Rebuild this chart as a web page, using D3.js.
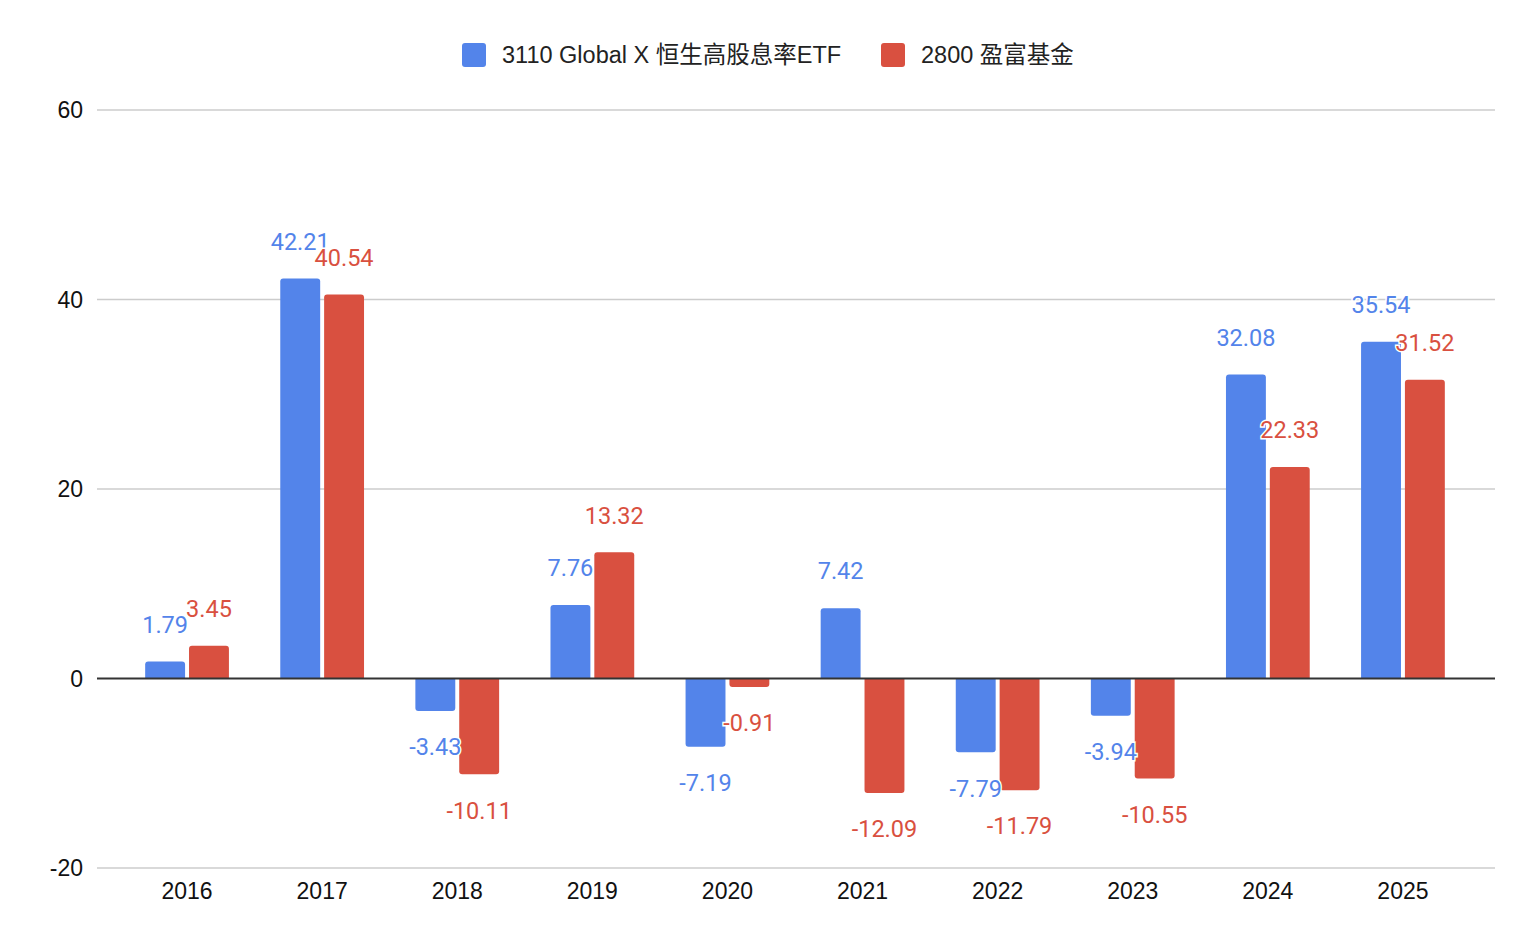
<!DOCTYPE html>
<html>
<head>
<meta charset="utf-8">
<script src="https://cdn.jsdelivr.net/npm/d3@7"></script>
<style>
  body { margin: 0; background: #fff; }
  text { font-family: "Liberation Sans", Arial, "Noto Sans CJK TC", sans-serif; }
  .lbl { font-family: Roboto, "Liberation Sans", sans-serif; }
</style>
</head>
<body>
<div id="chart"></div>
<script>
// data
var years = ["2016", "2017", "2018", "2019", "2020", "2021", "2022", "2023", "2024", "2025"];
var seriesNames = ["3110 Global X 恒生高股息率ETF", "2800 盈富基金"];
var etf3110 = [1.79, 42.21, -3.43, 7.76, -7.19, 7.42, -7.79, -3.94, 32.08, 35.54];
var fund2800 = [3.45, 40.54, -10.11, 13.32, -0.91, -12.09, -11.79, -10.55, 22.33, 31.52];
var yTicks = [-20, 0, 20, 40, 60];
var colors = ["#5384ea", "#d95040"];

var svgWidth = 1540;
var svgHeight = 950;

var svg = d3.select("#chart")
    .append("svg")
    .attr("width", svgWidth)
    .attr("height", svgHeight);

var x = d3.scaleBand()
    .domain(years)
    .range([119.5, 1470.5])
    .paddingInner(0.38)
    .paddingOuter(0.19);

var xInner = d3.scaleBand()
    .domain([0, 1])
    .range([0, x.bandwidth()])
    .paddingInner(0.09);

var y = d3.scaleLinear()
    .domain([-20, 60])
    .range([868, 110]);

// gridlines
svg.append("g").selectAll("line")
    .data(yTicks.filter(d => d !== 0))
    .enter()
    .append("line")
    .attr("x1", 97)
    .attr("x2", 1495)
    .attr("y1", d => y(d))
    .attr("y2", d => y(d))
    .attr("stroke", "#cccccc")
    .attr("stroke-width", 1.5);

// y labels
svg.append("g").selectAll("text")
    .data(yTicks)
    .enter()
    .append("text")
    .attr("x", 83)
    .attr("y", d => y(d))
    .attr("dy", "0.35em")
    .attr("text-anchor", "end")
    .attr("font-size", 23)
    .attr("fill", "#111")
    .text(d => d);

// x labels
svg.append("g").selectAll("text")
    .data(years)
    .enter()
    .append("text")
    .attr("x", d => x(d) + x.bandwidth() / 2)
    .attr("y", 891)
    .attr("dy", "0.35em")
    .attr("text-anchor", "middle")
    .attr("font-size", 23)
    .attr("fill", "#111")
    .text(d => d);

// flat table of bars
var rows = [];
years.forEach(function (yr, i) {
    rows.push({ year: yr, s: 0, v: etf3110[i] });
    rows.push({ year: yr, s: 1, v: fund2800[i] });
});

// bar with rounded far end
function barPath(d) {
    var x0 = x(d.year) + xInner(d.s);
    var w = xInner.bandwidth();
    var y0 = y(0);
    var y1 = y(d.v);
    var r = Math.min(3, Math.abs(y1 - y0));
    var sgn = d.v >= 0 ? 1 : -1;
    return "M" + x0 + "," + y0 +
        "L" + x0 + "," + (y1 + sgn * r) +
        "Q" + x0 + "," + y1 + " " + (x0 + r) + "," + y1 +
        "L" + (x0 + w - r) + "," + y1 +
        "Q" + (x0 + w) + "," + y1 + " " + (x0 + w) + "," + (y1 + sgn * r) +
        "L" + (x0 + w) + "," + y0 + "Z";
}

svg.append("g").selectAll("path")
    .data(rows)
    .enter()
    .append("path")
    .attr("d", barPath)
    .attr("fill", d => colors[d.s]);

// zero line
svg.append("line")
    .attr("x1", 97)
    .attr("x2", 1495)
    .attr("y1", y(0))
    .attr("y2", y(0))
    .attr("stroke", "#333")
    .attr("stroke-width", 2);

// data labels
svg.append("g").selectAll("text")
    .data(rows)
    .enter()
    .append("text")
    .attr("class", "lbl")
    .attr("x", d => x(d.year) + xInner(d.s) + xInner.bandwidth() / 2)
    .attr("y", d => d.v >= 0 ? y(d.v) - 37 : y(d.v) + 36)
    .attr("dy", "0.35em")
    .attr("text-anchor", "middle")
    .attr("font-size", 23.5)
    .attr("fill", d => colors[d.s])
    .attr("stroke", "#fff")
    .attr("stroke-width", 3)
    .attr("paint-order", "stroke")
    .text(d => d.v.toFixed(2));

// legend
var legendX = [462, 881];
var legend = svg.append("g").selectAll("g")
    .data(seriesNames)
    .enter()
    .append("g")
    .attr("transform", (d, i) => `translate(${legendX[i]}, 55)`);

legend.append("rect")
    .attr("x", 0)
    .attr("y", -12)
    .attr("width", 24)
    .attr("height", 24)
    .attr("rx", 3)
    .attr("fill", (d, i) => colors[i]);

legend.append("text")
    .attr("x", 40)
    .attr("y", 0)
    .attr("dy", "0.35em")
    .attr("font-size", 23.5)
    .attr("fill", "#222")
    .text(d => d);
</script>
</body>
</html>
